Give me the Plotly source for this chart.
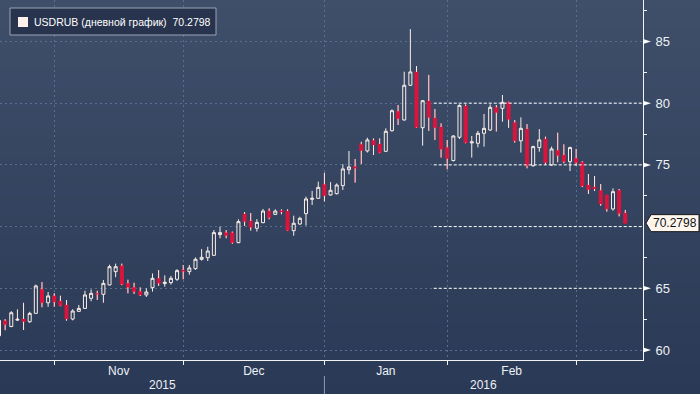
import plotly.graph_objects as go
import pandas as pd

# ---------------- data ----------------
dates = pd.bdate_range("2015-10-20", "2016-03-11")
dates = dates[dates != pd.Timestamp("2016-01-01")]

open_ = [61.15, 62.37, 61.9, 62.42, 62.51, 62.29, 62.97, 64.92, 63.83, 64.38,
         63.97, 63.65, 62.51, 63.13, 63.37, 64.19, 64.59, 64.51, 65.27, 66.35,
         66.83, 65.4, 65.08, 64.75, 64.46, 65.05, 65.81, 65.38, 65.46, 65.73,
         66.48, 66.35, 66.59, 67.35, 67.48, 67.67, 69.35, 69.51, 69.51, 68.7,
         71.02, 70.45, 69.86, 70.32, 71.26, 70.99, 71.29, 71.26, 69.67, 70.21,
         71.05, 72.21, 72.29, 73.42, 72.56, 72.67, 73.32, 74.61, 74.86, 76.67,
         76.13, 76.99, 76.69, 76.1, 77.77, 79.34, 78.64, 81.45, 82.53, 78.01,
         80.18, 78.8, 78.07, 76.42, 75.35, 77.24, 79.77, 76.78, 76.75, 77.56,
         77.83, 79.66, 79.58, 80.07, 78.44, 76.95, 77.9, 74.93, 76.4, 77.1,
         74.99, 76.18, 75.8, 75.26, 75.53, 75.21, 73.37, 73.21, 72.94, 72.56,
         71.43, 72.94, 71.1]
high = [62.5, 62.5, 63.15, 63.3, 63.83, 63.1, 65.3, 65.51, 64.7, 64.6,
        64.4, 64.05, 63.3, 63.65, 64.8, 64.9, 64.8, 65.67, 66.91, 67.0,
        67.0, 65.7, 65.45, 65.08, 65.0, 66.2, 66.48, 66.05, 66.0, 66.55,
        66.89, 66.89, 67.5, 68.18, 68.37, 69.72, 70.0, 69.72, 69.6, 70.59,
        71.18, 71.1, 70.6, 71.43, 71.48, 71.4, 71.4, 71.4, 70.88, 70.8,
        72.43, 72.89, 73.64, 74.37, 73.6, 73.5, 75.05, 76.13, 75.48, 76.88,
        77.2, 77.15, 77.15, 77.96, 79.5, 79.85, 82.55, 86.0, 83.01, 80.26,
        82.29, 79.53, 78.37, 77.02, 77.4, 79.9, 79.9, 77.34, 77.75, 79.12,
        79.9, 79.85, 80.66, 80.12, 78.64, 78.85, 78.31, 76.56, 77.9, 77.29,
        76.48, 77.61, 76.67, 76.48, 76.29, 75.3, 74.26, 74.1, 73.45, 72.56,
        73.1, 73.05, 71.35]
low = [61.1, 61.6, 61.85, 62.35, 61.62, 62.2, 62.95, 63.46, 63.5, 63.5,
       63.55, 62.37, 62.4, 63.1, 63.35, 63.95, 64.05, 63.83, 65.25, 65.9,
       65.25, 64.59, 64.54, 64.38, 64.3, 64.73, 65.19, 65.13, 65.3, 65.6,
       65.73, 66.1, 66.5, 67.24, 67.21, 67.65, 69.05, 69.05, 68.6, 68.65,
       70.05, 69.67, 69.6, 70.27, 70.59, 70.95, 71.0, 69.67, 69.26, 70.15,
       70.08, 71.75, 72.25, 72.03, 72.5, 72.6, 72.97, 74.23, 73.56, 75.07,
       76.0, 75.8, 75.95, 76.05, 77.7, 78.23, 78.58, 81.4, 78.0, 76.56,
       77.75, 77.02, 75.59, 74.64, 75.28, 77.1, 76.75, 75.59, 76.42, 76.48,
       77.75, 77.7, 78.5, 78.0, 76.8, 76.0, 74.72, 74.86, 76.07, 75.0,
       74.93, 75.21, 75.13, 74.5, 74.93, 73.2, 72.64, 72.88, 71.69, 71.21,
       71.29, 70.83, 70.2798]
close = [62.4, 62.05, 63.02, 62.49, 62.29, 62.97, 65.19, 63.83, 64.38, 63.89,
         63.59, 62.51, 63.16, 63.37, 64.46, 64.59, 64.51, 65.4, 66.75, 66.75,
         65.32, 65.08, 64.73, 64.46, 64.7, 65.81, 65.4, 65.49, 65.81, 66.43,
         66.37, 66.65, 67.35, 67.51, 68.02, 69.51, 69.51, 69.27, 68.7, 70.4,
         70.4, 69.94, 70.34, 71.26, 70.72, 71.26, 71.18, 69.7, 70.27, 70.67,
         72.24, 72.29, 73.18, 72.5, 72.94, 73.37, 74.67, 74.83, 74.72, 76.15,
         77.02, 76.61, 75.99, 77.72, 79.39, 78.74, 81.45, 82.53, 78.04, 80.2,
         78.83, 78.01, 76.26, 75.5, 77.34, 79.82, 76.8, 76.86, 77.56, 77.96,
         79.66, 79.23, 80.07, 78.67, 76.95, 77.96, 74.93, 76.48, 77.02, 75.18,
         76.29, 75.75, 75.26, 76.4, 75.18, 73.29, 72.99, 73.05, 71.83, 71.43,
         72.83, 71.05, 70.2798]

MONTH_LABELS = ["Nov", "Dec", "Jan", "Feb"]
YEAR_LABELS = ["2015", "2016"]
Y_TICKS = [60, 65, 70, 75, 80, 85]
Y_MINOR = [62.5, 67.5, 72.5, 77.5, 82.5, 87.5]
LEVELS = [65, 70, 75, 80]
LEVEL_START = 70.8
SERIES_NAME = "USDRUB (дневной график)"

# ---------------- derived ----------------
x = list(range(len(dates)))
X_RANGE = [0.163, 104.89]
Y_RANGE = [59.19, 88.36]
bounds = [i for i in range(1, len(dates)) if dates[i].month != dates[i - 1].month]
month_mid = [(bounds[k] + bounds[k + 1]) / 2 for k in range(len(MONTH_LABELS))]
year_break = [i for i in range(1, len(dates)) if dates[i].year != dates[i - 1].year][0]
year_mid = [(X_RANGE[0] + year_break) / 2, (year_break + X_RANGE[1]) / 2]
last = close[-1]
# the price tag hides the tick label it sits on
hidden = [v for v in Y_TICKS if abs(v - last) < 1.0]
y_ticktext = ["" if v in hidden else str(v) for v in Y_TICKS]

RED = "#dc143c"
WHITE = "#fbefe9"
FONT = "Liberation Sans, Arial, sans-serif"

fig = go.Figure()

fig.add_trace(go.Candlestick(
    x=x, open=open_, high=high, low=low, close=close,
    increasing=dict(line=dict(color=WHITE, width=1), fillcolor="rgba(0,0,0,0)"),
    decreasing=dict(line=dict(color=RED, width=1), fillcolor=RED),
    whiskerwidth=0, showlegend=False, hoverinfo="skip",
))

# white wicks for red candles
wx, wy = [], []
for i in x:
    if close[i] < open_[i]:
        wx += [i, i, None, i, i, None]
        wy += [high[i], open_[i], None, close[i], low[i], None]
fig.add_trace(go.Scatter(x=wx, y=wy, mode="lines",
                         line=dict(color=WHITE, width=1),
                         showlegend=False, hoverinfo="skip"))

shapes = []
# background gradient
n = 40
top = (63, 79, 106)
bot = (42, 57, 85)
y_lo = -34 / 360
for k in range(n):
    t = k / (n - 1)
    c = tuple(round(top[j] + (bot[j] - top[j]) * t) for j in range(3))
    y1 = 1 - (1 - y_lo) * k / n
    y0 = 1 - (1 - y_lo) * (k + 1) / n
    shapes.append(dict(type="rect", xref="paper", yref="paper",
                       x0=-0.01, x1=700 / 643 + 0.01, y0=y0 - 0.002, y1=y1 + 0.002,
                       fillcolor="rgb(%d,%d,%d)" % c, line=dict(width=0),
                       layer="below"))

# white dashed levels
for lv in LEVELS:
    shapes.append(dict(type="line", xref="x", yref="y",
                       x0=LEVEL_START, x1=X_RANGE[1], y0=lv, y1=lv,
                       line=dict(color="white", width=1, dash="3px,2px")))

# y tick triangles
for v in Y_TICKS:
    if v in hidden:
        continue
    shapes.append(dict(type="path", xref="paper", yref="y",
                       xsizemode="pixel", ysizemode="pixel", xanchor=1, yanchor=v,
                       path="M0,-2.5 L8,0 L0,2.5 Z",
                       fillcolor="white", line=dict(width=0)))

# last price tag
shapes.append(dict(type="path", xref="paper", yref="y",
                   xsizemode="pixel", ysizemode="pixel", xanchor=1, yanchor=last,
                   path="M3,0 L8,-8.5 L56,-8.5 L56,8.5 L8,8.5 Z",
                   fillcolor="#fff6ee", line=dict(color="#1b1b1b", width=1)))

# year separator
shapes.append(dict(type="line", xref="x", yref="paper",
                   x0=year_break, x1=year_break, y0=-16 / 360, y1=-34 / 360,
                   line=dict(color="#8e9bb0", width=1)))

# legend box
shapes.append(dict(type="rect", xref="paper", yref="paper",
                   x0=10 / 643, x1=216 / 643, y0=(360 - 35) / 360, y1=(360 - 8) / 360,
                   fillcolor="#28344d", line=dict(color="#9aa3b2", width=1)))
shapes.append(dict(type="rect", xref="paper", yref="paper",
                   x0=18 / 643, x1=28 / 643, y0=(360 - 27) / 360, y1=(360 - 17) / 360,
                   fillcolor="#fff0ec", line=dict(width=0)))

annotations = [
    dict(xref="paper", yref="paper", x=32 / 643, y=(360 - 22) / 360,
         xanchor="left", yanchor="middle", showarrow=False,
         text=SERIES_NAME + "&nbsp;&nbsp;" + ("%.4f" % last),
         font=dict(color="white", size=10.5, family=FONT)),
    dict(xref="paper", yref="y", x=1, y=last, xshift=8,
         xanchor="left", yanchor="middle", showarrow=False,
         text="%.4f" % last,
         font=dict(color="#111111", size=12, family=FONT)),
]
for lab, pos in zip(YEAR_LABELS, year_mid):
    annotations.append(dict(xref="x", yref="paper", x=pos, y=-25 / 360,
                            xanchor="center", yanchor="middle", showarrow=False,
                            text=lab, font=dict(color="#eef1f5", size=12, family=FONT)))

fig.update_layout(
    width=700, height=394, autosize=False,
    margin=dict(l=0, r=57, t=0, b=34),
    paper_bgcolor="#33425e", plot_bgcolor="rgba(0,0,0,0)",
    showlegend=False, hovermode=False,
    shapes=shapes, annotations=annotations,
    xaxis=dict(
        range=X_RANGE, rangeslider=dict(visible=False),
        tickmode="array", tickvals=month_mid, ticktext=MONTH_LABELS,
        ticks="", showgrid=False, zeroline=False,
        tickfont=dict(color="#eef1f5", size=12, family=FONT),
        showline=True, linecolor="#f2f2f2", linewidth=1,
        minor=dict(tickmode="array", tickvals=bounds, ticks="outside", ticklen=4,
                   tickcolor="#f2f2f2", showgrid=True, gridcolor="#56708e",
                   griddash="2px,3px", gridwidth=1),
    ),
    yaxis=dict(
        side="right", range=Y_RANGE, tickmode="array", tickvals=Y_TICKS,
        ticktext=y_ticktext,
        ticks="outside", ticklen=9, tickcolor="rgba(0,0,0,0)",
        tickfont=dict(color="#eef1f5", size=13, family=FONT),
        showgrid=True, gridcolor="#56708e", griddash="2px,3px", gridwidth=1,
        zeroline=False, showline=True, linecolor="#f2f2f2", linewidth=1,
        minor=dict(tickmode="array", tickvals=Y_MINOR, ticks="outside", ticklen=3,
                   tickcolor="#f2f2f2", showgrid=False),
    ),
)

fig.write_html("out.html",
               config={"displayModeBar": False, "staticPlot": True},
               post_script="document.body.style.margin='0';document.body.style.padding='0';"
                           "document.body.style.overflow='hidden';"
                           "document.body.style.background='#2b3a55';")
